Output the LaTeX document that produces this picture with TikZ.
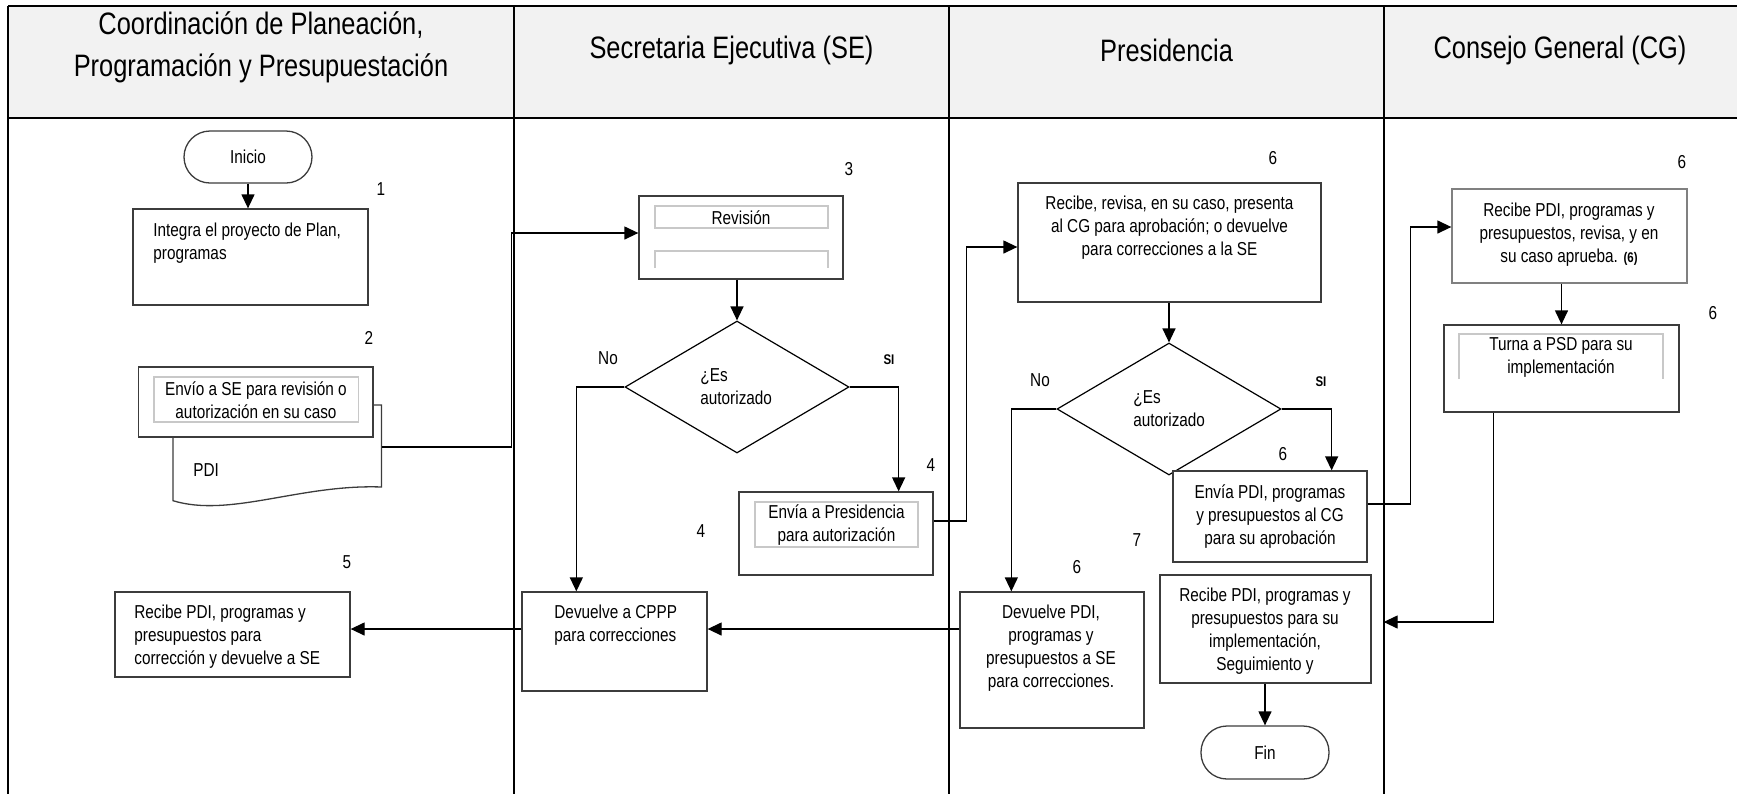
\documentclass[tikz,border=0pt]{standalone}
\usepackage{fontspec}
\setmainfont{Liberation Sans}[FakeStretch=0.82]
\usetikzlibrary{arrows.meta,shapes.geometric}
\newcommand\myBody{\fontsize{9.35pt}{11.5pt}\selectfont}
\newcommand\myHead{\fontsize{15.5pt}{21pt}\selectfont}
\newcommand\mySmallB{\fontsize{7pt}{8pt}\selectfont\bfseries}
\definecolor{hdr}{HTML}{F2F2F2}
\definecolor{boxline}{HTML}{3C3C3C}
\definecolor{innerline}{HTML}{C8C8C8}
\begin{document}
\begin{tikzpicture}[x=0.5pt,y=-0.5pt,
  lane/.style={line width=1.4pt, black},
  bx/.style 2 args={draw=boxline, fill=white, line width=0.65pt, minimum width=#1*0.5pt, minimum height=#2*0.5pt, inner sep=0pt},
  term/.style={draw=boxline, fill=white, line width=0.65pt, rounded corners=13pt, font=\myBody, inner sep=0pt},
  dia/.style={diamond, draw=black, fill=white, line width=0.6pt, minimum width=112pt, minimum height=66pt, inner sep=0pt},
  txt/.style={font=\myBody, inner sep=0pt},
  hd/.style={font=\myHead, inner sep=0pt},
  sib/.style={font=\mySmallB, inner sep=0pt},
  inner/.style={draw=innerline, line width=0.6pt},
  arr/.style={-{Triangle[length=7pt,width=6.5pt]}, line width=0.65pt, black},
]
\useasboundingbox (0,0) rectangle (1737,794);
% header band and lanes
\fill[hdr] (8,6) rectangle (1737,118);
\draw[lane] (8,6) -- (1737,6);
\draw[lane] (8,118) -- (1737,118);
\draw[lane] (8,6) -- (8,794);
\draw[lane] (514,6) -- (514,794);
\draw[lane] (949,6) -- (949,794);
\draw[lane] (1384,6) -- (1384,794);
\node[hd, align=center] (h1) at (261,47) {Coordinación de Planeación,\\Programación y Presupuestación};
\node[hd] (h2) at (731.5,50) {Secretaria Ejecutiva (SE)};
\node[hd] (h3) at (1166.5,50) {Presidencia};
\node[hd] (h4) at (1560,50) {Consejo General (CG)};

% lane 1
\node[term, minimum width=64pt, minimum height=26pt] (ini) at (248,157) {Inicio};
\node[txt] (n1) at (381,189) {1};
\node[bx={235}{96}] (b1) at (250.5,257) {};
\node[txt, align=left, anchor=west] (b1t) at (153,243.5) {Integra el proyecto de Plan,\\programas};
\node[txt] (n2) at (369,338) {2};
\node[minimum width=104.25pt, minimum height=42pt, inner sep=0pt] (doc) at (277.25,447) {};
\draw[draw=boxline, fill=white, line width=0.65pt] (173,405) -- (381.5,405) -- (381.5,487)
  .. controls (300,484) and (230,518) .. (173,500.7) -- cycle;
\node[txt, anchor=west] (pdit) at (193,470) {PDI};
\node[bx={234.5}{70}] (b2) at (255.75,402) {};
\draw[inner] (154,377) rectangle (358.6,422);
\node[txt, align=center] (b2t) at (256,400) {Envío a SE para revisión o\\autorización en su caso};
\node[txt] (n5) at (347,562) {5};
\node[bx={235}{85}] (b5) at (232.5,634.5) {};
\node[txt, align=left, anchor=west] (b5t) at (134,636.5) {Recibe PDI, programas y\\presupuestos para\\corrección y devuelve a SE};

% lane 2
\node[txt] (n3) at (849,169) {3};
\node[bx={204}{83}] (rev) at (741,237.5) {};
\draw[inner] (655,206) rectangle (828,228);
\draw[inner] (655,268) -- (655,251) -- (828,251) -- (828,268);
\node[txt] (revt) at (741,218) {Revisión};
\node[dia] (d1) at (737,387) {};
\node[txt, align=left, anchor=west] (d1t) at (700,386.5) {¿Es\\autorizado};
\node[txt] (no1) at (608,358) {No};
\node[sib] (si1) at (889,360) {SI};
\node[txt] (n4a) at (931,465) {4};
\node[bx={194}{83}] (env1) at (836,533.5) {};
\draw[inner] (755,502) rectangle (918,547);
\node[txt, align=center] (env1t) at (836.5,525) {Envía a Presidencia\\para autorización};
\node[txt] (n4b) at (701,531) {4};
\node[bx={185}{99}] (dev1) at (614.5,641.5) {};
\node[txt, align=left, anchor=west] (dev1t) at (554,625) {Devuelve a CPPP\\para correcciones};

% lane 3
\node[txt] (n6a) at (1273,158) {6};
\node[bx={303}{119}] (pres) at (1169.5,242.5) {};
\node[txt, align=center] (prest) at (1169.5,227.5) {Recibe, revisa, en su caso, presenta\\al CG para aprobación; o devuelve\\para correcciones a la SE};
\node[dia] (d2) at (1169,409) {};
\node[txt, align=left, anchor=west] (d2t) at (1133,408.5) {¿Es\\autorizado};
\node[txt] (no2) at (1040,380) {No};
\node[sib] (si2) at (1321,382) {SI};
\node[txt] (n6b) at (1283,454) {6};
\node[bx={194}{91}] (env2) at (1270,516.5) {};
\node[txt, align=center] (env2t) at (1270,516.5) {Envía PDI, programas\\y presupuestos al CG\\para su aprobación};
\node[txt] (n7) at (1137,540) {7};
\node[txt] (n6c) at (1077,567) {6};
\node[bx={184}{136}] (dev2) at (1052,660) {};
\node[txt, align=center] (dev2t) at (1051,648.5) {Devuelve PDI,\\programas y\\presupuestos a SE\\para correcciones.};
\node[bx={211}{108}] (recimp) at (1265.5,629) {};
\node[txt, align=center] (recimpt) at (1265,631.5) {Recibe PDI, programas y\\presupuestos para su\\implementación,\\Seguimiento y};
\node[term, minimum width=64pt, minimum height=26.5pt] (fin) at (1265,752.5) {Fin};

% lane 4
\node[txt] (n6d) at (1682,162) {6};
\node[bx={235}{94}, draw=gray] (cgr) at (1569.5,236) {};
\node[txt, align=center] (cgrt) at (1569,234.5) {Recibe PDI, programas y\\presupuestos, revisa, y en\\su caso aprueba. {\mySmallB(6)}};
\node[txt] (n6e) at (1713,313) {6};
\node[bx={235}{87}] (turna) at (1561.5,368.5) {};
\draw[inner] (1459,379) -- (1459,334) -- (1663,334) -- (1663,379);
\node[txt, align=center] (turnat) at (1561,357.5) {Turna a PSD para su\\implementación};

% connectors
\draw[arr] (ini.south) -- (ini.south |- b1.north);
\draw[arr] (doc.east) -- ++(129.5,0) |- ([yshift=2.25pt]rev.west);
\draw[arr] (d1.north |- rev.south) -- (d1.north);
\draw[arr] (d1.west) -| ([xshift=27.5pt]dev1.north west);
\draw[arr] (d1.east) -| ([xshift=-17.5pt]env1.north east);
\draw[arr] ([yshift=6.25pt]env1.east) -- ++(33,0) |- ([yshift=-2.25pt]pres.west);
\draw[arr] (d2.north |- pres.south) -- (d2.north);
\draw[arr] (d2.west) -| ([xshift=26pt]dev2.north west);
\draw[arr] (d2.east) -| ([xshift=-18pt]env2.north east);
\draw[arr] ([yshift=6.25pt]env2.east) -- ++(43,0) |- ([yshift=4.5pt]cgr.west);
\draw[arr] (turna.north |- cgr.south) -- (turna.north);
\draw[arr] ([xshift=25pt]turna.south west) |- ([xshift=6pt,yshift=3.5pt]recimp.east);
\draw[arr] (fin.north |- recimp.south) -- (fin.north);
\draw[arr] ([yshift=15.5pt]dev2.west) -- ([yshift=6.25pt]dev1.east);
\draw[arr] ([yshift=6.25pt]dev1.west) -- ([yshift=2.75pt]b5.east);
\end{tikzpicture}
\end{document}
